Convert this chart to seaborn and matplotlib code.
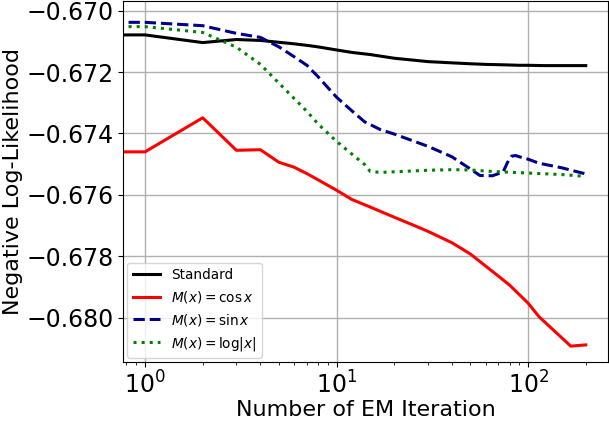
"""Negative log-likelihood over EM iterations for several M(x) choices."""
import matplotlib
matplotlib.use("Agg")
import matplotlib.pyplot as plt
import pandas as pd
import seaborn as sns

# iteration 0 is clipped on the log axis, which runs the line to the left edge
STANDARD_ITERS = [0, 1, 2, 3, 4, 5, 6, 7, 8, 10, 12, 15, 20, 25, 30, 40, 50, 60, 70, 80, 90, 100, 120, 150, 170, 200]
STANDARD_NLL = [-0.67079, -0.67079, -0.67104, -0.67094, -0.67097, -0.67103, -0.67108, -0.67113, -0.67118,
                -0.67128, -0.67136, -0.67143, -0.67155, -0.67161, -0.67166, -0.67170, -0.67173, -0.67175,
                -0.67176, -0.67177, -0.67178, -0.67178, -0.67179, -0.67179, -0.67179, -0.67179]

COS_ITERS = [0, 1, 2, 3, 4, 5, 6, 7, 8, 10, 12, 15, 20, 25, 30, 40, 50, 60, 70, 80, 90, 100, 114, 120, 150, 167, 200]
COS_NLL = [-0.67460, -0.67460, -0.67349, -0.67455, -0.67453, -0.67494, -0.67510, -0.67531, -0.67551,
           -0.67585, -0.67615, -0.67640, -0.67673, -0.67698, -0.67719, -0.67756, -0.67793, -0.67832,
           -0.67865, -0.67894, -0.67925, -0.67953, -0.67997, -0.68010, -0.68066, -0.68093, -0.68089]

SIN_ITERS = [0, 1, 2, 3, 4, 5, 6, 7, 8, 10, 12, 14, 17, 20, 25, 30, 40, 50, 56, 65, 74, 78, 82, 86, 90,
             100, 114, 150, 200]
SIN_NLL = [-0.67038, -0.67038, -0.67049, -0.67074, -0.67087, -0.67118, -0.67150, -0.67178, -0.67215,
           -0.67282, -0.67326, -0.67362, -0.67388, -0.67402, -0.67424, -0.67442, -0.67476, -0.67516,
           -0.67537, -0.67538, -0.67526, -0.67495, -0.67474, -0.67472, -0.67476, -0.67484, -0.67497,
           -0.67512, -0.67532]

LOG_ITERS = [0, 1, 2, 3, 4, 5, 6, 7, 8, 10, 12, 14, 15, 17, 20, 30, 40, 50, 65, 100, 150, 200]
LOG_NLL = [-0.67052, -0.67052, -0.67071, -0.67119, -0.67175, -0.67236, -0.67286, -0.67328, -0.67369,
           -0.67426, -0.67467, -0.67501, -0.67524, -0.67527, -0.67525, -0.67520, -0.67518, -0.67519,
           -0.67524, -0.67529, -0.67534, -0.67540]

SERIES = [
    ("Standard", STANDARD_ITERS, STANDARD_NLL, "black", "-"),
    (r"$M(x) = \cos x$", COS_ITERS, COS_NLL, "red", "-"),
    (r"$M(x) = \sin x$", SIN_ITERS, SIN_NLL, "darkblue", "--"),
    (r"$M(x) = \log|x|$", LOG_ITERS, LOG_NLL, "green", ":"),
]


def main():
    fig = plt.figure(figsize=(6.09, 4.23), dpi=100)
    ax = fig.add_subplot(111)
    for label, iters, nll, color, style in SERIES:
        data = pd.DataFrame({"iteration": iters, "nll": nll})
        sns.lineplot(data=data, x="iteration", y="nll", color=color, linestyle=style,
                     linewidth=2.2, label=label, ax=ax)
    ax.set_xscale("log")
    ax.set_ylim(-0.68145, -0.66968)
    ax.grid(True, color="#b0b0b0", linewidth=1.0)
    ax.set_xlabel("Number of EM Iteration", fontsize=16, labelpad=1)
    ax.set_ylabel("Negative Log-Likelihood", fontsize=16, labelpad=2)
    ax.tick_params(labelsize=17)
    ax.legend(loc="lower left", fontsize=9.8, borderaxespad=0.3)
    fig.subplots_adjust(left=0.202, right=0.998, bottom=0.144, top=0.998)
    fig.savefig("out.png", dpi=100)


if __name__ == "__main__":
    main()
